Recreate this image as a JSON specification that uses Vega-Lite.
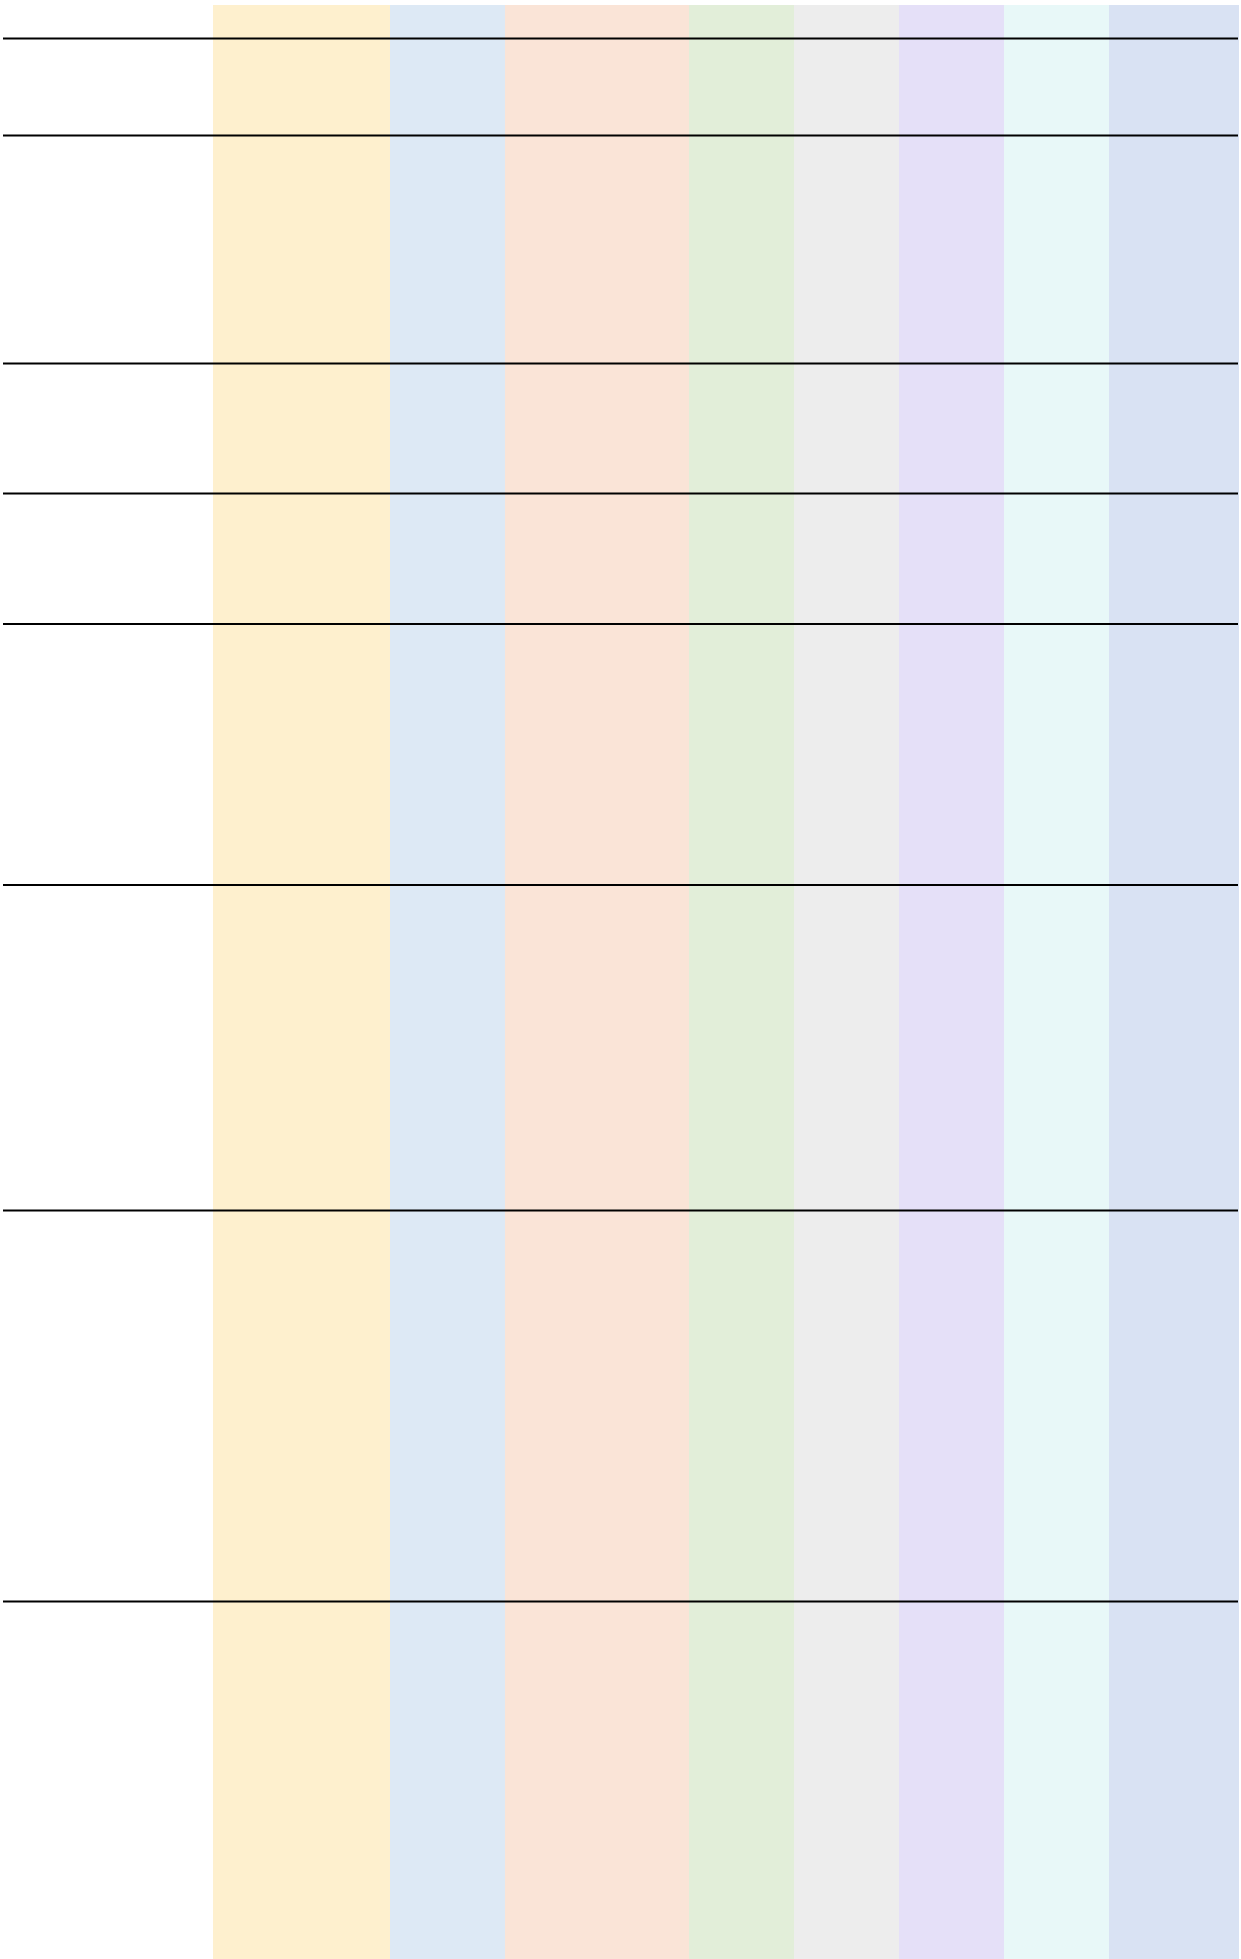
{
  "$schema": "https://vega.github.io/schema/vega-lite/v6.json",
  "width": 1241,
  "height": 1959,
  "autosize": {"type": "fit", "contains": "padding"},
  "padding": 0,
  "background": "white",
  "config": {"view": {"stroke": null}},
  "datasets": {
    "columns": [
      {"col": "c1", "start": 213, "end": 390, "top": 5, "bottom": 1959},
      {"col": "c2", "start": 390, "end": 505, "top": 5, "bottom": 1959},
      {"col": "c3", "start": 505, "end": 689, "top": 5, "bottom": 1959},
      {"col": "c4", "start": 689, "end": 794, "top": 5, "bottom": 1959},
      {"col": "c5", "start": 794, "end": 899, "top": 5, "bottom": 1959},
      {"col": "c6", "start": 899, "end": 1004, "top": 5, "bottom": 1959},
      {"col": "c7", "start": 1004, "end": 1109, "top": 5, "bottom": 1959},
      {"col": "c8", "start": 1109, "end": 1239, "top": 5, "bottom": 1959}
    ],
    "rows": [
      {"row": "r1", "pos": 38.5},
      {"row": "r2", "pos": 135.5},
      {"row": "r3", "pos": 363.5},
      {"row": "r4", "pos": 493.5},
      {"row": "r5", "pos": 624},
      {"row": "r6", "pos": 885},
      {"row": "r7", "pos": 1210.5},
      {"row": "r8", "pos": 1601.5}
    ]
  },
  "layer": [
    {
      "data": {"name": "columns"},
      "mark": {"type": "rect", "strokeWidth": 0},
      "encoding": {
        "x": {"field": "start", "type": "quantitative", "scale": {"domain": [0, 1241], "nice": false, "zero": false}, "axis": null},
        "x2": {"field": "end"},
        "y": {"field": "top", "type": "quantitative", "scale": {"domain": [0, 1959], "reverse": true, "nice": false, "zero": false}, "axis": null},
        "y2": {"field": "bottom"},
        "color": {
          "field": "col",
          "type": "nominal",
          "legend": null,
          "scale": {
            "domain": ["c1", "c2", "c3", "c4", "c5", "c6", "c7", "c8"],
            "range": ["#FEF0CE", "#DDE9F5", "#FAE4D7", "#E2EED9", "#EDEDED", "#E5E0F8", "#E8F8F8", "#D9E2F3"]
          }
        }
      }
    },
    {
      "data": {"name": "rows"},
      "mark": {"type": "rule", "color": "black", "strokeWidth": 2},
      "encoding": {
        "y": {"field": "pos", "type": "quantitative"},
        "x": {"datum": 3, "type": "quantitative"},
        "x2": {"datum": 1238}
      }
    }
  ]
}
